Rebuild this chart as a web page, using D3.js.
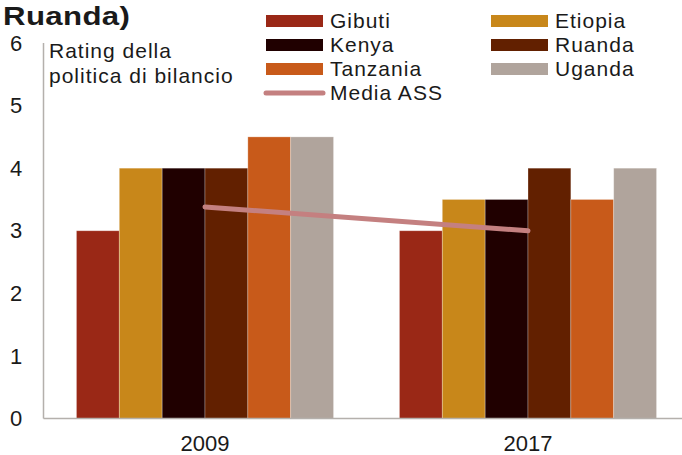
<!DOCTYPE html>
<html><head><meta charset="utf-8">
<script src="https://cdn.jsdelivr.net/npm/d3@7"></script>
<style>
html,body{margin:0;padding:0;background:#fff;}
svg{display:block;font-family:"Liberation Sans",Arial,sans-serif;}
</style></head>
<body>
<svg id="c" width="682" height="455"></svg>
<script>
const years = ["2009", "2017"];
const countries = ["Gibuti", "Etiopia", "Kenya", "Ruanda", "Tanzania", "Uganda"];
const colors = ["#9a2816", "#c8871a", "#200000", "#622000", "#c85a1a", "#b0a49c"];
const values2009 = [3, 4, 4, 4, 4.5, 4.5];
const values2017 = [3, 3.5, 3.5, 4, 3.5, 4];
const mediaASS = [3.38, 3.0];
const yTicks = [0, 1, 2, 3, 4, 5, 6];
const legendOrder = ["Gibuti", "Etiopia", "Kenya", "Ruanda", "Tanzania", "Uganda"];

const svg = d3.select("#c");
const y = d3.scaleLinear().domain([0, 6]).range([418.5, 43]);
const x0 = d3.scaleBand().domain(years).range([43.5, 689.5]).padding(0);
const bw = x0.bandwidth();
const x1 = d3.scaleBand().domain(countries).range([bw * 0.102, bw * 0.898]).padding(0);
const color = d3.scaleOrdinal().domain(countries).range(colors);
const valuesByYear = {"2009": values2009, "2017": values2017};

// title fragment
svg.append("text").attr("transform", "translate(3,24.5) scale(1.2,1)")
  .attr("font-weight", "bold").attr("font-size", 26).attr("letter-spacing", 0.3)
  .attr("fill", "#1a1a1a").text("Ruanda)");

// bars
const g = svg.append("g");
years.forEach(yr => {
  g.append("g").attr("transform", `translate(${x0(yr)},0)`)
    .selectAll("rect").data(countries.map((c, i) => ({c, v: valuesByYear[yr][i]})))
    .join("rect")
    .attr("x", d => x1(d.c)).attr("width", x1.bandwidth())
    .attr("y", d => y(d.v)).attr("height", d => y(0) - y(d.v))
    .attr("fill", d => color(d.c))
    .attr("stroke", "rgba(255,255,255,0.35)").attr("stroke-width", 0.8);
});

// axes lines
svg.append("line").attr("x1", 43.5).attr("x2", 682).attr("y1", y(0)).attr("y2", y(0))
  .attr("stroke", "#b4b0ac").attr("stroke-width", 1.5);
svg.append("line").attr("x1", 43.5).attr("x2", 43.5).attr("y1", y(6)).attr("y2", y(0))
  .attr("stroke", "#b4b0ac").attr("stroke-width", 1.5);

// y tick labels
svg.append("g").selectAll("text").data(yTicks).join("text")
  .attr("x", 16).attr("y", d => y(d)).attr("dy", "0.35em")
  .attr("text-anchor", "middle").attr("font-size", 22).attr("fill", "#1a1a1a")
  .text(d => d);

// x labels
svg.append("g").selectAll("text").data(years).join("text")
  .attr("x", d => x0(d) + bw / 2).attr("y", 451)
  .attr("text-anchor", "middle").attr("font-size", 22).attr("fill", "#1a1a1a")
  .text(d => d);

// media line
const line = d3.line().x((d, i) => x0(years[i]) + bw / 2).y(d => y(d));
svg.append("path").datum(mediaASS).attr("d", line)
  .attr("fill", "none").attr("stroke", "#c48080").attr("stroke-width", 5)
  .attr("stroke-linecap", "round");

// axis annotation
const ann = svg.append("text").attr("font-size", 21).attr("fill", "#1a1a1a").attr("letter-spacing", 1);
ann.append("tspan").attr("x", 49).attr("y", 58).text("Rating della");
ann.append("tspan").attr("x", 49).attr("y", 83).text("politica di bilancio");

// legend
const leg = svg.append("g");
legendOrder.forEach((c, i) => {
  const col = i % 2, row = Math.floor(i / 2);
  const lx = col === 0 ? 266 : 491, ly = 21 + row * 24;
  leg.append("rect").attr("x", lx).attr("y", ly - 6).attr("width", 57).attr("height", 12)
    .attr("fill", color(c));
  leg.append("text").attr("x", lx + 64).attr("y", ly).attr("dy", "0.35em")
    .attr("font-size", 21).attr("letter-spacing", 1).attr("fill", "#1a1a1a").text(c);
});
leg.append("line").attr("x1", 266).attr("x2", 323).attr("y1", 93).attr("y2", 93)
  .attr("stroke", "#c48080").attr("stroke-width", 5).attr("stroke-linecap", "round");
leg.append("text").attr("x", 330).attr("y", 93).attr("dy", "0.35em")
  .attr("font-size", 21).attr("letter-spacing", 1).attr("fill", "#1a1a1a").text("Media ASS");
</script>
</body></html>
